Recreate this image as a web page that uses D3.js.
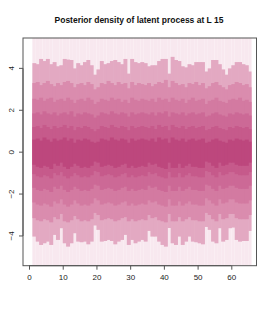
<!DOCTYPE html>
<html><head><meta charset="utf-8">
<script src="https://cdn.jsdelivr.net/npm/d3@7"></script>
<style>body{margin:0;background:#fff}svg{display:block}</style>
</head><body>
<script>
// columns (time index L); each column spans [x, x+1]
const columns = d3.range(1, 66);
// band boundaries (posterior density levels), outermost first
const top1 = [4.25,4.2,4.45,4.35,4.45,4.2,4.3,4.1,4.15,4.45,4.42,4.4,4.0,4.25,4.15,4.3,4.4,4.15,3.7,3.95,4.35,4.2,4.25,4.35,4.4,4.3,4.2,4.45,3.75,4.45,4.3,4.25,4.3,
4.25,4.1,4.15,4.15,4.35,4.45,4.45,3.75,4.55,4.4,4.35,4.1,4.05,4.2,4.15,4.3,4.3,4.3,3.85,4.0,4.4,4.4,4.2,3.95,3.7,4.0,4.15,4.3,4.3,4.2,4.15,3.85];
const top2 = [3.3,3.35,3.2,3.3,3.4,3.25,3.15,3.3,3.2,3.35,3.4,3.3,3.1,3.25,3.3,3.2,3.35,3.25,3.0,3.1,3.3,3.25,3.4,3.3,3.2,3.35,3.25,3.3,3.05,3.35,3.2,3.3,3.25,
3.2,3.3,3.15,3.25,3.35,3.3,3.45,3.1,3.4,3.3,3.2,3.25,3.1,3.3,3.25,3.35,3.2,3.3,3.05,3.15,3.3,3.35,3.2,3.1,3.0,3.2,3.25,3.35,3.3,3.2,3.25,3.1];
const top3 = [2.55,2.5,2.6,2.45,2.55,2.6,2.4,2.5,2.55,2.45,2.6,2.5,2.35,2.5,2.55,2.45,2.6,2.5,2.3,2.4,2.55,2.5,2.45,2.6,2.5,2.55,2.4,2.5,2.35,2.6,2.5,2.45,2.55,
2.5,2.45,2.55,2.4,2.6,2.5,2.55,2.4,2.6,2.5,2.45,2.55,2.35,2.5,2.6,2.45,2.5,2.55,2.3,2.45,2.5,2.6,2.45,2.4,2.35,2.5,2.55,2.5,2.6,2.45,2.5,2.4];
const top4 = [1.85,1.9,1.8,1.95,1.85,1.8,1.9,1.75,1.85,1.9,1.8,1.95,1.7,1.85,1.8,1.9,1.85,1.8,1.65,1.75,1.9,1.85,1.8,1.95,1.85,1.8,1.9,1.85,1.7,1.9,1.8,1.85,1.9,
1.85,1.8,1.9,1.75,1.9,1.85,1.95,1.7,1.9,1.85,1.8,1.9,1.75,1.85,1.9,1.8,1.85,1.9,1.7,1.75,1.85,1.9,1.8,1.75,1.7,1.85,1.8,1.9,1.85,1.8,1.85,1.75];
const top5 = [1.2,1.25,1.15,1.3,1.2,1.1,1.25,1.15,1.2,1.3,1.15,1.25,1.05,1.2,1.15,1.25,1.2,1.1,1.0,1.1,1.25,1.2,1.15,1.3,1.2,1.15,1.25,1.2,1.05,1.25,1.15,1.2,1.25,
1.2,1.15,1.25,1.1,1.3,1.2,1.25,1.05,1.3,1.2,1.15,1.25,1.1,1.2,1.25,1.15,1.2,1.25,1.05,1.1,1.2,1.25,1.15,1.1,1.05,1.2,1.15,1.25,1.2,1.15,1.2,1.1];
const top6 = [0.6,0.65,0.55,0.7,0.6,0.5,0.65,0.55,0.6,0.7,0.55,0.65,0.45,0.6,0.55,0.65,0.6,0.5,0.45,0.5,0.65,0.6,0.55,0.7,0.6,0.55,0.65,0.6,0.45,0.65,0.55,0.6,0.65,
0.6,0.55,0.65,0.5,0.7,0.6,0.65,0.45,0.7,0.6,0.55,0.65,0.5,0.6,0.65,0.55,0.6,0.65,0.45,0.5,0.6,0.65,0.55,0.5,0.45,0.6,0.55,0.65,0.6,0.55,0.6,0.5];
const bot1 = [-4.03,-4.27,-4.43,-4.35,-4.27,-4.43,-3.95,-4.19,-3.63,-4.35,-4.51,-4.35,-3.87,-4.27,-4.3,-4.27,-4.4,-4.27,-3.5,-3.71,-4.27,-4.24,-4.19,-4.24,-4.4,-4.27,-4.19,-3.95,-4.43,-4.19,-4.35,-4.27,-4.19,
-4.27,-3.76,-4.03,-4.03,-4.27,-4.43,-4.51,-3.62,-4.35,-4.43,-4.03,-4.43,-4.27,-4.03,-4.27,-4.3,-4.35,-4.4,-3.57,-3.71,-4.27,-4.35,-3.63,-4.27,-4.19,-3.63,-3.6,-4.19,-4.27,-4.24,-4.24,-3.76];
const bot2 = [-3.15,-3.25,-3.3,-3.2,-3.25,-3.35,-3.1,-3.2,-2.95,-3.3,-3.35,-3.25,-3.05,-3.2,-3.3,-3.25,-3.3,-3.2,-2.9,-3.0,-3.25,-3.2,-3.15,-3.2,-3.3,-3.25,-3.15,-3.1,-3.3,-3.2,-3.3,-3.25,-3.2,
-3.25,-3.0,-3.15,-3.1,-3.25,-3.3,-3.35,-2.95,-3.3,-3.3,-3.1,-3.3,-3.2,-3.1,-3.25,-3.25,-3.3,-3.3,-2.9,-3.0,-3.2,-3.3,-2.95,-3.2,-3.15,-2.95,-2.95,-3.15,-3.2,-3.2,-3.2,-3.0];
const bot3 = [-2.4,-2.5,-2.55,-2.45,-2.5,-2.6,-2.35,-2.45,-2.25,-2.5,-2.6,-2.5,-2.3,-2.45,-2.55,-2.5,-2.55,-2.45,-2.2,-2.3,-2.5,-2.45,-2.4,-2.45,-2.55,-2.5,-2.4,-2.35,-2.55,-2.45,-2.55,-2.5,-2.45,
-2.5,-2.3,-2.4,-2.35,-2.5,-2.55,-2.6,-2.25,-2.55,-2.55,-2.35,-2.55,-2.45,-2.35,-2.5,-2.5,-2.55,-2.55,-2.2,-2.3,-2.45,-2.55,-2.25,-2.45,-2.4,-2.25,-2.25,-2.4,-2.45,-2.45,-2.45,-2.3];
const bot4 = [-1.7,-1.8,-1.85,-1.75,-1.8,-1.9,-1.65,-1.75,-1.6,-1.8,-1.9,-1.8,-1.65,-1.75,-1.85,-1.8,-1.85,-1.75,-1.55,-1.6,-1.8,-1.75,-1.7,-1.75,-1.85,-1.8,-1.7,-1.65,-1.85,-1.75,-1.85,-1.8,-1.75,
-1.8,-1.6,-1.7,-1.65,-1.8,-1.85,-1.9,-1.6,-1.85,-1.85,-1.65,-1.85,-1.75,-1.65,-1.8,-1.8,-1.85,-1.85,-1.55,-1.6,-1.75,-1.85,-1.6,-1.75,-1.7,-1.6,-1.6,-1.7,-1.75,-1.75,-1.75,-1.6];
const bot5 = [-1.05,-1.15,-1.2,-1.1,-1.15,-1.25,-1.0,-1.1,-0.95,-1.15,-1.25,-1.15,-1.0,-1.1,-1.2,-1.15,-1.2,-1.1,-0.9,-0.95,-1.15,-1.1,-1.05,-1.1,-1.2,-1.15,-1.05,-1.0,-1.2,-1.1,-1.2,-1.15,-1.1,
-1.15,-0.95,-1.05,-1.0,-1.15,-1.2,-1.25,-0.95,-1.2,-1.2,-1.0,-1.2,-1.1,-1.0,-1.15,-1.15,-1.2,-1.2,-0.9,-0.95,-1.1,-1.2,-0.95,-1.1,-1.05,-0.95,-0.95,-1.05,-1.1,-1.1,-1.1,-0.95];
const bot6 = [-0.6,-0.7,-0.75,-0.65,-0.7,-0.8,-0.55,-0.65,-0.5,-0.7,-0.8,-0.7,-0.55,-0.65,-0.75,-0.7,-0.75,-0.65,-0.45,-0.5,-0.7,-0.65,-0.6,-0.65,-0.75,-0.7,-0.6,-0.55,-0.75,-0.65,-0.75,-0.7,-0.65,
-0.7,-0.5,-0.6,-0.55,-0.7,-0.75,-0.8,-0.5,-0.75,-0.75,-0.55,-0.75,-0.65,-0.55,-0.7,-0.7,-0.75,-0.75,-0.45,-0.5,-0.65,-0.75,-0.5,-0.65,-0.6,-0.5,-0.5,-0.6,-0.65,-0.65,-0.65,-0.5];
const levelColors = ["#F8E8EF","#E3A9C2","#DA8CAE","#D37AA1","#CC6996","#C65A8B","#BD477D"];
const xTicks = [0,10,20,30,40,50,60];
const yTicks = [-4,-2,0,2,4];
const title = "Posterior density of latent process at L 15";

const W = 275, H = 314;
const svg = d3.select("body").append("svg").attr("width", W).attr("height", H);
const x = d3.scaleLinear().domain([-1.78, 67.47]).range([23, 256.5]);
const y = d3.scaleLinear().domain([-5.42, 5.45]).range([265.7, 38]);
const [yMin, yMax] = y.domain();

const tops = [yMax, top1, top2, top3, top4, top5, top6];
const bots = [yMin, bot1, bot2, bot3, bot4, bot5, bot6];

// light background cells (faint seams between cells, as in the original image)
const gBg = svg.append("g");
columns.forEach((c) => {
  gBg.append("rect")
    .attr("x", x(c)).attr("width", x(c + 1) - x(c))
    .attr("y", y(yMax)).attr("height", y(yMin) - y(yMax))
    .attr("fill", levelColors[0]);
});
// coloured density bands, overlapping slightly to avoid white seams
const g = svg.append("g");
levelColors.slice(1).forEach((col, j) => {
  const k = j + 1;
  columns.forEach((c, i) => {
    const last = i === columns.length - 1;
    g.append("rect")
      .attr("x", x(c)).attr("width", x(c + 1) - x(c) + (last ? 0 : 0.6))
      .attr("y", y(tops[k][i])).attr("height", y(bots[k][i]) - y(tops[k][i]))
      .attr("fill", col);
  });
});

// frame
svg.append("rect").attr("x", 23).attr("y", 38).attr("width", 256.5 - 23).attr("height", 265.7 - 38)
  .attr("fill", "none").attr("stroke", "#555").attr("stroke-width", 1);

const font = "Liberation Sans, Arial, Helvetica, sans-serif";
const xAxis = svg.append("g").attr("transform", "translate(0,265.7)")
  .call(d3.axisBottom(x).tickValues(xTicks).tickSize(4).tickPadding(5));
xAxis.select(".domain").attr("d", `M${x(0)},0H${x(60)}`);
const yAxis = svg.append("g").attr("transform", "translate(23,0)")
  .call(d3.axisLeft(y).tickValues(yTicks).tickSize(4).tickPadding(0));
yAxis.select(".domain").attr("d", `M0,${y(-4)}V${y(4)}`);
[xAxis, yAxis].forEach(a => {
  a.selectAll("path,line").attr("stroke", "#555");
  a.selectAll("text").attr("font-family", font).attr("font-size", 8).attr("fill", "#222");
});
yAxis.selectAll("text")
  .attr("x", null).attr("dy", null)
  .attr("text-anchor", "middle")
  .attr("transform", d => `translate(-11.5,${y(d)}) rotate(-90)`)
  .attr("y", 0).attr("dy", "0.32em");
yAxis.selectAll(".tick").attr("transform", null);
yAxis.selectAll(".tick line").attr("y1", d => y(d)).attr("y2", d => y(d));

svg.append("text").attr("x", 139).attr("y", 23).attr("text-anchor", "middle")
  .attr("font-family", font).attr("font-weight", "bold").attr("font-size", 8.5).attr("fill", "#111")
  .text(title);
</script>
</body></html>
